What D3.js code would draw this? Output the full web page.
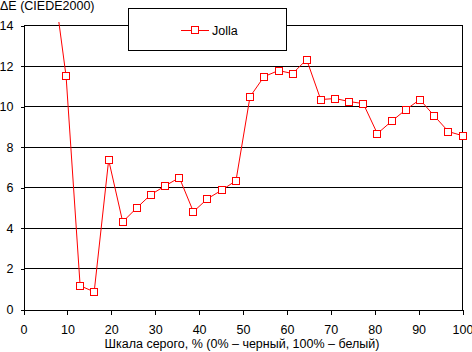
<!DOCTYPE html>
<html>
<head>
    <meta charset="utf-8">
    <script src="https://cdnjs.cloudflare.com/ajax/libs/d3/7.8.5/d3.min.js"></script>
</head>

<style>
    body { margin: 0; background: #fff; }
    svg { display: block; font-family: "Liberation Sans", Arial, sans-serif; }
    .axis text { font-size: 12.5px; fill: #000; }
    .axis path, .axis line { stroke: #000; shape-rendering: crispEdges; }
    .grid line { stroke: #000; shape-rendering: crispEdges; }
    .line { fill: none; stroke: #ff0000; stroke-width: 1px; }
</style>

<body>
<div id="chart"></div>

<script>

    // grey level, %
    var greyLevels = [6.5, 9.7, 12.9, 16.1, 19.4, 22.6, 25.8, 29.0, 32.3, 35.5,
                      38.7, 41.9, 45.2, 48.4, 51.6, 54.8, 58.1, 61.3, 64.5, 67.7,
                      71.0, 74.2, 77.4, 80.6, 83.9, 87.1, 90.3, 93.5, 96.8, 100];

    // Jolla, delta E
    var jolla = [16.7, 11.5, 1.17, 0.87, 7.37, 4.32, 5.01, 5.66, 6.1, 6.5,
                 4.82, 5.46, 5.89, 6.35, 10.49, 11.48, 11.78, 11.63, 12.32, 10.35,
                 10.4, 10.25, 10.15, 8.67, 9.29, 9.85, 10.35, 9.56, 8.77, 8.57];

    var xTicks = [0, 10, 20, 30, 40, 50, 60, 70, 80, 90, 100];
    var yTicks = [0, 2, 4, 6, 8, 10, 12, 14];

    var seriesName = 'Jolla';
    var yTitle = 'ΔE (CIEDE2000)';
    var xTitle = 'Шкала серого, % (0% – черный, 100% – белый)';

    var width = 472;
    var height = 352;
    var color = '#ff0000';

    var xScale = d3.scaleLinear()
        .domain([0, 100])
        .range([23.5, 462.5]);

    var yScale = d3.scaleLinear()
        .domain([0, 14])
        .range([309.5, 25.5]);

    var svg = d3.select('#chart').append('svg')
        .attr('width', width)
        .attr('height', height);

    svg.append('defs').append('clipPath')
        .attr('id', 'plot-clip')
        .append('rect')
        .attr('x', 0)
        .attr('y', 22)
        .attr('width', width)
        .attr('height', 300);

    // gridlines
    svg.append('g')
        .attr('class', 'grid')
        .selectAll('line')
        .data(yTicks.slice(1))
        .enter()
        .append('line')
        .attr('x1', xScale(0))
        .attr('x2', xScale(100))
        .attr('y1', function(d) { return yScale(d); })
        .attr('y2', function(d) { return yScale(d); });

    // right border of the plot
    svg.append('line')
        .attr('stroke', 'black')
        .attr('shape-rendering', 'crispEdges')
        .attr('x1', xScale(100))
        .attr('x2', xScale(100))
        .attr('y1', yScale(14))
        .attr('y2', yScale(0));

    var yAxis = d3.axisLeft(yScale)
        .tickValues(yTicks)
        .tickSizeInner(3)
        .tickSizeOuter(0)
        .tickPadding(7);

    svg.append('g')
        .attr('class', 'axis')
        .attr('transform', 'translate(' + xScale(0) + ',0)')
        .call(yAxis)
        .selectAll('text').attr('font-family', null);

    var xAxis = d3.axisBottom(xScale)
        .tickValues(xTicks)
        .tickSizeInner(5)
        .tickSizeOuter(0)
        .tickPadding(11);

    svg.append('g')
        .attr('class', 'axis')
        .attr('transform', 'translate(0,' + yScale(0) + ')')
        .call(xAxis);

    svg.selectAll('.axis').attr('font-family', null).attr('font-size', null);

    // series
    var pen = d3.line()
        .x(function(d, i) { return xScale(greyLevels[i]); })
        .y(function(d) { return yScale(d); });

    svg.append('path')
        .datum(jolla)
        .attr('class', 'line')
        .attr('clip-path', 'url(#plot-clip)')
        .attr('d', pen);

    var visible = jolla.map(function(d, i) { return [greyLevels[i], d]; })
        .filter(function(p) { return p[1] <= 14; });

    svg.append('g')
        .selectAll('rect.point')
        .data(visible)
        .enter()
        .append('rect')
        .attr('class', 'point')
        .attr('x', function(d) { return Math.round(xScale(d[0])) - 3.5; })
        .attr('y', function(d) { return Math.round(yScale(d[1])) - 3.5; })
        .attr('width', 7)
        .attr('height', 7)
        .attr('fill', 'white')
        .attr('stroke', color);

    // legend
    var legend = svg.append('g');

    legend.append('rect')
        .attr('x', 128.5)
        .attr('y', 8.5)
        .attr('width', 158)
        .attr('height', 42)
        .attr('fill', 'white')
        .attr('stroke', 'black');

    legend.append('line')
        .attr('x1', 181)
        .attr('x2', 209)
        .attr('y1', 30.5)
        .attr('y2', 30.5)
        .attr('stroke', color);

    legend.append('rect')
        .attr('x', 191.5)
        .attr('y', 26.5)
        .attr('width', 7)
        .attr('height', 7)
        .attr('fill', 'white')
        .attr('stroke', color);

    legend.append('text')
        .attr('x', 212)
        .attr('y', 35)
        .attr('font-size', '12.5px')
        .text(seriesName);

    // titles
    svg.append('text')
        .attr('x', 0)
        .attr('y', 10)
        .attr('font-size', '12.5px')
        .text(yTitle);

    svg.append('text')
        .attr('x', 242)
        .attr('y', 348)
        .attr('text-anchor', 'middle')
        .attr('font-size', '12.5px')
        .text(xTitle);

</script>
</body>
</html>
